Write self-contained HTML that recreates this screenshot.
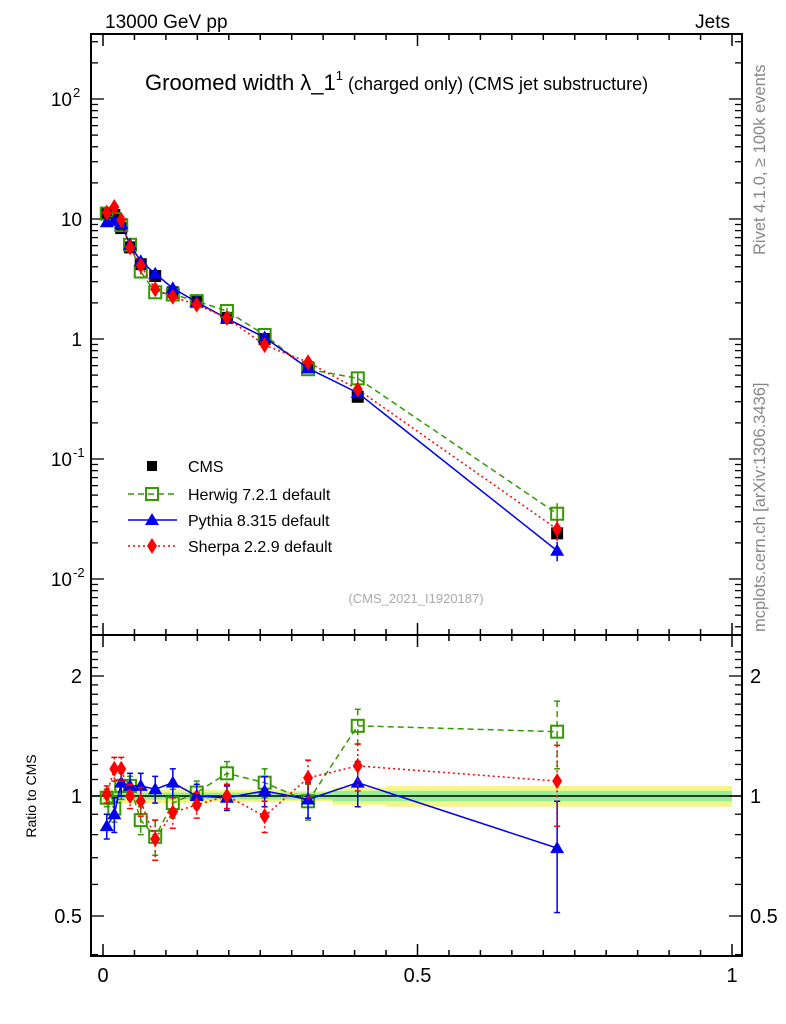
<!DOCTYPE html>
<html><head><meta charset="utf-8">
<style>
html,body{margin:0;padding:0;background:#fff;}
svg{display:block;font-family:"Liberation Sans",sans-serif;}
</style></head>
<body>
<svg id="chart" width="786" height="1024" viewBox="0 0 786 1024" xmlns="http://www.w3.org/2000/svg">
<rect width="786" height="1024" fill="#fff"/>
<text x="105" y="28" font-size="19">13000 GeV pp</text>
<text x="730" y="28" font-size="19" text-anchor="end">Jets</text>
<text x="145" y="90" font-size="22">Groomed width λ_1<tspan font-size="13" dy="-10">1</tspan><tspan font-size="18" dy="10"> (charged only) (CMS jet substructure)</tspan></text>
<text transform="translate(765,255) rotate(-90)" font-size="16.5" fill="#888">Rivet 4.1.0, ≥ 100k events</text>
<text transform="translate(765,632) rotate(-90)" font-size="16.5" fill="#888">mcplots.cern.ch [arXiv:1306.3436]</text>
<text x="416" y="603" font-size="13" fill="#aaa" text-anchor="middle">(CMS_2021_I1920187)</text>
<text transform="translate(36,796) rotate(-90)" font-size="14" text-anchor="middle">Ratio to CMS</text>
<g id="bands"></g>
<g id="axes"></g>
<g id="series"></g>
<g id="legend"></g>
</svg>
<script>
const xs       = [0.006,0.018,0.029,0.043,0.060,0.083,0.111,0.149,0.197,0.257,0.326,0.405,0.722];
const cms      = [11.2,10.8,8.4,5.8,4.2,3.35,2.45,2.03,1.5,1.0,0.58,0.33,0.024];
const herwig   = [11.1,10.0,8.9,6.1,3.65,2.45,2.35,2.07,1.71,1.08,0.56,0.47,0.035];
const pythia   = [9.4,9.7,9.1,6.1,4.45,3.5,2.65,2.03,1.48,1.03,0.57,0.356,0.0172];
const sherpa   = [11.3,12.6,9.8,5.8,4.1,2.6,2.25,1.93,1.5,0.89,0.64,0.38,0.026];
const herwigR  = [0.99,0.93,1.06,1.06,0.87,0.79,0.96,1.02,1.14,1.08,0.97,1.50,1.45];
const pythiaR  = [0.84,0.90,1.08,1.06,1.06,1.04,1.08,1.00,0.99,1.03,0.98,1.08,0.74];
const sherpaR  = [1.01,1.17,1.17,1.00,0.97,0.78,0.91,0.95,1.00,0.89,1.11,1.19,1.09];
const herwigE  = [0.05,0.07,0.08,0.06,0.07,0.08,0.08,0.07,0.08,0.09,0.10,0.15,0.28];
const pythiaE  = [0.06,0.09,0.08,0.08,0.08,0.08,0.09,0.07,0.07,0.09,0.10,0.14,0.23];
const sherpaE  = [0.05,0.08,0.08,0.07,0.08,0.09,0.08,0.07,0.07,0.08,0.12,0.16,0.25];
const bandY    = [0.04,0.04,0.04,0.04,0.04,0.04,0.04,0.04,0.035,0.035,0.03,0.05,0.06];
const bandG    = [0.02,0.02,0.02,0.02,0.02,0.02,0.02,0.02,0.02,0.02,0.02,0.03,0.03];
const binEdges = [0,0.012,0.024,0.035,0.05,0.07,0.095,0.13,0.17,0.23,0.29,0.365,0.45,1.0];
const xTickMajor = [0,0.5,1];
const mainTickLabels = [["10","-2",0.01],["10","-1",0.1],["1","",1],["10","",10],["10","2",100]];
const ratioTickLabels = [0.5,1,2];

const NS="http://www.w3.org/2000/svg";
const L=91,R=742,T=34,MB=635,RB=956;
const X=v=>103+629*v;
const Ym=v=>339-120*Math.log10(v);
const Yr=v=>796-398.6*Math.log10(v);
function el(tag,attrs,parent){const e=document.createElementNS(NS,tag);for(const k in attrs)e.setAttribute(k,attrs[k]);parent.appendChild(e);return e;}
const axes=document.getElementById('axes'),bands=document.getElementById('bands'),ser=document.getElementById('series'),leg=document.getElementById('legend');

for(let i=0;i<cms.length;i++){
  const x0=X(binEdges[i]),x1=X(binEdges[i+1]);
  const b=el('rect',{x:x0,y:Yr(1+bandY[i]),width:x1-x0,height:Yr(1-bandY[i])-Yr(1+bandY[i]),fill:'#f5f58a'},bands);
  
  
  const g=el('rect',{x:x0,y:Yr(1+bandG[i]),width:x1-x0,height:Yr(1-bandG[i])-Yr(1+bandG[i]),fill:'#98ee98'},bands);
  
  
}
const one=el('line',{x1:L,x2:R,y1:Yr(1),y2:Yr(1),stroke:'#000','stroke-width':1.5},bands);



const f1=el('rect',{x:L,y:T,width:R-L,height:MB-T,fill:'none',stroke:'#000','stroke-width':2},axes);


const f2=el('rect',{x:L,y:MB,width:R-L,height:RB-MB,fill:'none',stroke:'#000','stroke-width':2},axes);



for(let k=0;k<=20;k++){
  const v=k*0.05,x=X(v),maj=(k%10===0);
  const len=maj?12:6;
  [[MB,-1],[MB,1],[RB,-1],[T,1]].forEach(([y,d])=>{
    const t=el('line',{x1:x,x2:x,y1:y,y2:y+d*len,stroke:'#000','stroke-width':1.5},axes);
    
    
  });
}
xTickMajor.forEach(v=>{
  const t=el('text',{x:X(v),y:982,'font-size':20,'text-anchor':'middle'},axes);
  t.textContent=v===0.5?'0.5':String(v);
  
  
});
for(let e=-3;e<=2;e++){
  for(let m=1;m<=9;m++){
    const v=m*Math.pow(10,e),y=Ym(v);
    if(y<T||y>MB)continue;
    const len=m===1?13:7;
    [[L,1],[R,-1]].forEach(([x,d])=>{
      const t=el('line',{x1:x,x2:x+d*len,y1:y,y2:y,stroke:'#000','stroke-width':1.3},axes);
      
      
    });
  }
}
mainTickLabels.forEach(([b,sup,v])=>{
  const t=el('text',{x:sup?72:82,y:Ym(v)+7,'font-size':19,'text-anchor':'end'},axes);
  t.textContent=b;
  
  
  if(sup){const s=el('tspan',{'font-size':13,dy:-9,x:73,'text-anchor':'start'},t);s.textContent=sup;}
});
for(let v=0.4;v<=2.4;v+=0.1){
  const vv=Math.round(v*10)/10,y=Yr(vv);
  if(y<MB||y>RB)continue;
  const maj=(vv===0.5||vv===1||vv===2);
  const len=maj?13:7;
  [[L,1],[R,-1]].forEach(([x,d])=>{
    const t=el('line',{x1:x,x2:x+d*len,y1:y,y2:y,stroke:'#000','stroke-width':1.3},axes);
    
    
  });
}
ratioTickLabels.forEach(v=>{
  const t=el('text',{x:82,y:Yr(v)+7,'font-size':20,'text-anchor':'end'},axes);
  t.textContent=String(v);
  
  
  const t2=el('text',{x:750,y:Yr(v)+7,'font-size':20},axes);
  t2.textContent=String(v);
  
  
});

function marker(type,x,y,color,parent){
  let m;
  if(type==='sq') m=el('rect',{x:x-6,y:y-6,width:12,height:12,fill:'#000'},parent);
  else if(type==='osq') m=el('rect',{x:x-6,y:y-6,width:12,height:12,fill:'#fff','fill-opacity':0,stroke:color,'stroke-width':2},parent);
  else if(type==='tri') m=el('polygon',{points:`${x},${y-7} ${x-7},${y+5} ${x+7},${y+5}`,fill:color},parent);
  else m=el('polygon',{points:`${x},${y-8} ${x-5},${y} ${x},${y+8} ${x+5},${y}`,fill:color},parent);
  return m;
}
const models=[
  {name:'herwig',vals:herwig,r:herwigR,e:herwigE,color:'#339900',dash:'6,4',m:'osq'},
  {name:'pythia',vals:pythia,r:pythiaR,e:pythiaE,color:'#0000ee',dash:'',m:'tri'},
  {name:'sherpa',vals:sherpa,r:sherpaR,e:sherpaE,color:'#ff0000',dash:'2,3',m:'dia'}
];
cms.forEach((v,i)=>{
  const m=marker('sq',X(xs[i]),Ym(v),'#000',ser);
  
  
});
models.forEach(md=>{
  const pm=xs.map((x,i)=>X(x)+','+Ym(md.vals[i])).join(' ');
  const l1=el('polyline',{points:pm,fill:'none',stroke:md.color,'stroke-width':1.5,'stroke-dasharray':md.dash},ser);
  
  
  const pr=xs.map((x,i)=>X(x)+','+Yr(md.r[i])).join(' ');
  const l2=el('polyline',{points:pr,fill:'none',stroke:md.color,'stroke-width':1.5,'stroke-dasharray':md.dash},ser);
  
  
  xs.forEach((x,i)=>{
    const px=X(x);
    const lo=md.r[i]-md.e[i],hi=md.r[i]+md.e[i];
    const eb=el('line',{x1:px,x2:px,y1:Yr(hi),y2:Yr(lo),stroke:md.color,'stroke-width':1.5,'stroke-dasharray':md.dash},ser);
    
    
    [hi,lo].forEach(v=>{const c=el('line',{x1:px-3,x2:px+3,y1:Yr(v),y2:Yr(v),stroke:md.color,'stroke-width':1.5},ser);
      
      });
    const mv=md.vals[i],me=mv*md.e[i]*0.8;
    const eb2=el('line',{x1:px,x2:px,y1:Ym(mv+me),y2:Ym(Math.max(mv-me,1e-4)),stroke:md.color,'stroke-width':1.5},ser);
    
    
    const m1=marker(md.m,px,Ym(mv),md.color,ser);
    
    
    const m2=marker(md.m,px,Yr(md.r[i]),md.color,ser);
    
    
  });
});
const entries=[['CMS','sq','#000','',null],['Herwig 7.2.1 default','osq','#339900','6,4',1],['Pythia 8.315 default','tri','#0000ee','',1],['Sherpa 2.2.9 default','dia','#ff0000','2,3',1]];
const ly=[466,494,520,546];
entries.forEach((en,i)=>{
  const g=el('g',{},leg);
  
  
  if(en[4]) el('line',{x1:128,x2:177,y1:ly[i],y2:ly[i],stroke:en[2],'stroke-width':1.5,'stroke-dasharray':en[3]},g);
  const m=marker(en[1],152,ly[i],en[2],g);
  if(en[1]==='sq'){m.setAttribute('x',147);m.setAttribute('y',ly[i]-5);m.setAttribute('width',10);m.setAttribute('height',10);}
  const t=el('text',{x:188,y:ly[i]+6,'font-size':16},g);
  t.textContent=en[0];
});
</script>
</body></html>
